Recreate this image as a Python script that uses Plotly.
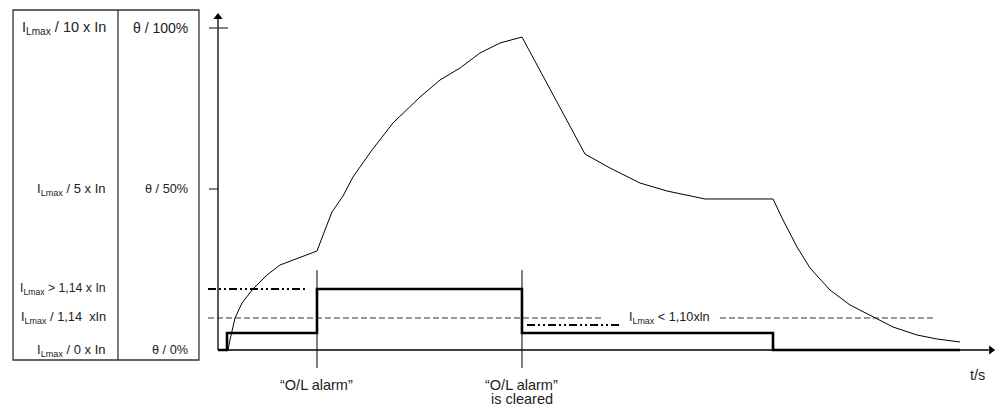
import plotly.graph_objects as go

# ---------------- data (t in arbitrary time units, theta in %) ----------------
curve_t = [1.29, 1.54, 2.19, 3.09, 4.50, 6.31, 7.98, 10.55, 12.74, 13.77, 14.67, 16.09,
           17.37, 19.82, 22.52, 26.00, 28.57, 31.15, 33.72, 36.29, 39.12, 47.23, 50.45,
           54.31, 57.79, 62.68, 71.43, 72.72, 74.52, 76.19, 78.76, 81.34, 84.30, 86.87,
           89.96, 92.54, 95.50]
curve_theta = [0.0, 3.11, 9.94, 14.60, 18.94, 23.29, 26.40, 28.88, 30.75, 37.27, 42.86, 47.83,
               53.73, 62.11, 70.50, 78.57, 83.85, 87.58, 92.24, 95.34, 97.20, 60.87, 56.52,
               51.86, 49.38, 46.9, 46.9, 40.37, 31.99, 25.47, 18.63, 13.98, 10.25, 7.14,
               4.66, 3.42, 2.48]

signal_t = [0, 1.16, 12.74, 39.12, 71.43, 95.5]
signal_level = [0, 5.28, 18.94, 5.28, 0, 0]

alarm_level = 18.94      # I_Lmax > 1,14 x In
pickup_level = 9.94      # I_Lmax / 1,14 x In
clear_level = 7.76       # I_Lmax < 1,10 x In
alarm_t = 12.74
cleared_t = 39.12

table_col1 = ["I<sub>Lmax</sub> / 10 x In", "I<sub>Lmax</sub> / 5 x In",
              "I<sub>Lmax</sub> > 1,14 x In", "I<sub>Lmax</sub> / 1,14\u00a0\u00a0xIn",
              "I<sub>Lmax</sub> / 0 x In"]
table_col2 = ["\u03b8 / 100%", "\u03b8 / 50%", "", "", "\u03b8 / 0%"]
table_rows = [100, 50, alarm_level, pickup_level, 0]
table_sizes1 = [14.5, 13, 12.3, 12.8, 13]
table_sizes2 = [14, 12.7, 12.7, 12.7, 12.7]

FONT = "Liberation Sans, Arial, sans-serif"
TXT = "#222222"
FS = 14.5

fig = go.Figure()

# axes (lines + arrow heads)
fig.add_trace(go.Scatter(x=[0, 0], y=[0, 103], mode="lines",
                         line=dict(color="black", width=1.3), hoverinfo="skip"))
fig.add_trace(go.Scatter(x=[0, 99.2], y=[0, 0], mode="lines",
                         line=dict(color="black", width=1.3), hoverinfo="skip"))
fig.add_trace(go.Scatter(x=[0], y=[103.4], mode="markers",
                         marker=dict(symbol="triangle-up", size=8, color="black"),
                         hoverinfo="skip"))
fig.add_trace(go.Scatter(x=[99.5], y=[0], mode="markers",
                         marker=dict(symbol="triangle-right", size=8, color="black"),
                         hoverinfo="skip"))

# thermal image curve
fig.add_trace(go.Scatter(x=curve_t, y=curve_theta, mode="lines",
                         line=dict(color="black", width=1), hoverinfo="skip"))
# alarm status signal
fig.add_trace(go.Scatter(x=signal_t, y=signal_level, mode="lines", line_shape="hv",
                         line=dict(color="black", width=2.6), hoverinfo="skip"))
# threshold lines
dashdot = "8px,3px,2px,3px,2px,3px"
fig.add_trace(go.Scatter(x=[-1.29, 11.58], y=[alarm_level, alarm_level], mode="lines",
                         line=dict(color="black", width=1.8, dash=dashdot), hoverinfo="skip"))
fig.add_trace(go.Scatter(x=[-1.29, 49.55], y=[pickup_level, pickup_level], mode="lines",
                         line=dict(color="#333", width=1, dash="6px,3px"), hoverinfo="skip"))
fig.add_trace(go.Scatter(x=[64.6, 92.0], y=[pickup_level, pickup_level], mode="lines",
                         line=dict(color="#333", width=1, dash="6px,3px"), hoverinfo="skip"))
fig.add_trace(go.Scatter(x=[39.77, 51.74], y=[clear_level, clear_level], mode="lines",
                         line=dict(color="black", width=1.8, dash=dashdot), hoverinfo="skip"))
# event markers
for tt in (alarm_t, cleared_t):
    fig.add_trace(go.Scatter(x=[tt, tt], y=[-5.6, 24.8], mode="lines",
                             line=dict(color="black", width=1), hoverinfo="skip"))

ann = []
shapes = []
# y ticks
shapes.append(dict(type="line", xref="x", yref="y", x0=-1.16, x1=1.29, y0=100, y1=100,
                   line=dict(color="#333", width=1.2)))
shapes.append(dict(type="line", xref="x", yref="y", x0=-1.16, x1=0, y0=50, y1=50,
                   line=dict(color="#333", width=1.2)))
# table
shapes.append(dict(type="rect", xref="x", yref="y", x0=-26.38, x1=-2.45, y0=-3.11, y1=105.59,
                   line=dict(color="#333", width=1.3)))
shapes.append(dict(type="line", xref="x", yref="y", x0=-12.87, x1=-12.87, y0=-3.11, y1=105.59,
                   line=dict(color="#333", width=1.3)))

for lab1, lab2, yy, s1, s2 in zip(table_col1, table_col2, table_rows, table_sizes1, table_sizes2):
    ann.append(dict(x=-14.16, y=yy, xref="x", yref="y", text=lab1, showarrow=False,
                    xanchor="right", yanchor="middle", font=dict(family=FONT, size=s1, color=TXT)))
    if lab2:
        ann.append(dict(x=-3.6, y=yy, xref="x", yref="y", text=lab2, showarrow=False,
                        xanchor="right", yanchor="middle", font=dict(family=FONT, size=s2, color=TXT)))

ann.append(dict(x=52.64, y=pickup_level, xref="x", yref="y",
                text="I<sub>Lmax</sub> < 1,10xln", showarrow=False, xanchor="left",
                yanchor="middle", font=dict(family=FONT, size=12.7, color=TXT)))
ann.append(dict(x=alarm_t, y=-10.87, xref="x", yref="y", text="\u201cO/L alarm\u201d",
                showarrow=False, xanchor="center", yanchor="middle",
                font=dict(family=FONT, size=FS, color=TXT)))
ann.append(dict(x=cleared_t, y=-10.87, xref="x", yref="y",
                text="\u201cO/L alarm\u201d", showarrow=False,
                xanchor="center", yanchor="middle",
                font=dict(family=FONT, size=FS, color=TXT)))
ann.append(dict(x=cleared_t, y=-15.1, xref="x", yref="y",
                text="is cleared", showarrow=False,
                xanchor="center", yanchor="middle",
                font=dict(family=FONT, size=FS, color=TXT)))
ann.append(dict(x=97.7, y=-7.76, xref="x", yref="y", text="t/s", showarrow=False,
                xanchor="center", yanchor="middle", font=dict(family=FONT, size=FS, color=TXT)))

fig.update_layout(
    width=1004, height=407,
    margin=dict(l=0, r=0, t=0, b=0),
    paper_bgcolor="white", plot_bgcolor="white",
    showlegend=False,
    xaxis=dict(visible=False, range=[-28.057, 101.158], fixedrange=True),
    yaxis=dict(visible=False, range=[-17.702, 108.696], fixedrange=True),
    shapes=shapes, annotations=ann,
    hovermode=False,
)

fig.write_html("out.html", config={"displayModeBar": False},
               post_script="document.body.style.margin='0';document.body.style.padding='0';"
                           "document.body.style.overflow='hidden';")
